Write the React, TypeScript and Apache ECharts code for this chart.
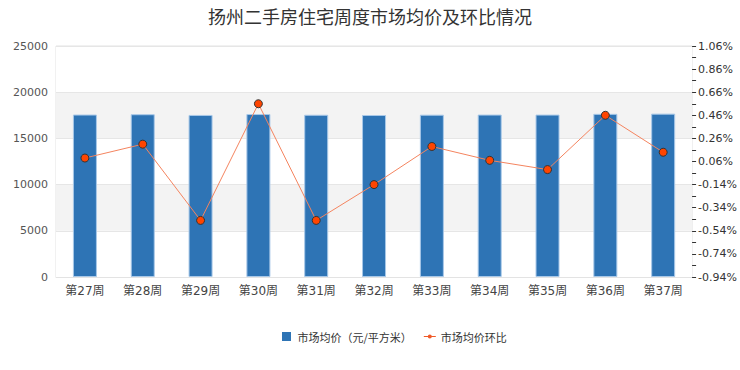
import React, { useEffect, useRef } from "react";
import * as echarts from "echarts";

const categories = ["第27周", "第28周", "第29周", "第30周", "第31周", "第32周", "第33周", "第34周", "第35周", "第36周", "第37周"];
const avgPrice = [17580, 17617, 17538, 17636, 17557, 17532, 17565, 17577, 17575, 17656, 17681];
const ringRatio = [0.09, 0.21, -0.45, 0.56, -0.45, -0.14, 0.19, 0.07, -0.01, 0.46, 0.14];
const rightMin = -0.94;
const rightSpan = 2.0;

export default function App() {
  const ref = useRef<HTMLDivElement>(null);
  useEffect(() => {
    if (!ref.current) return;
    const chart = echarts.init(ref.current, undefined, { renderer: "svg" });
    chart.setOption({
      animation: false,
      textStyle: { fontFamily: "DejaVu Sans, Noto Sans CJK SC, sans-serif" },
      title: {
        text: "扬州二手房住宅周度市场均价及环比情况",
        left: "center",
        top: 2,
        textStyle: { fontSize: 18, fontWeight: "normal", color: "#333", fontFamily: "Noto Sans CJK SC, sans-serif" },
      },
      legend: {
        top: 326,
        left: 277,
        itemGap: 12,
        itemWidth: 12,
        itemHeight: 9,
        symbolKeepAspect: true,
        textStyle: { fontSize: 11, color: "#333", fontFamily: "Noto Sans CJK SC, sans-serif" },
        data: [
          { name: "市场均价（元/平方米）", icon: "path://M0,0H10V10H0Z", itemStyle: { borderWidth: 0 } },
          {
            name: "市场均价环比",
            icon: "path://M0,4H12V5H0Z M6,2.5A2,2 0 1 1 6,6.5A2,2 0 1 1 6,2.5Z",
            itemStyle: { color: "#f05a28", borderWidth: 0 },
          },
        ],
      },
      grid: {
        left: 56,
        right: 47,
        top: 46,
        bottom: 93,
        show: true,
        borderColor: "#e3e3e3",
        borderWidth: 1,
      },
      xAxis: {
        type: "category",
        data: categories,
        axisLine: { lineStyle: { color: "#e3e3e3" } },
        axisTick: { show: false },
        axisLabel: { color: "#444", fontSize: 12, margin: 8 },
      },
      yAxis: [
        {
          type: "value",
          min: 0,
          max: 25000,
          interval: 5000,
          axisLine: { show: false },
          axisTick: { show: false },
          axisLabel: { color: "#555", fontSize: 11, formatter: (v: number) => String(v) },
          splitLine: { show: true, lineStyle: { color: "#e6e6e6" } },
          splitArea: { show: true, areaStyle: { color: ["#ffffff", "#f3f3f3"] } },
        },
        {
          type: "value",
          min: 0,
          max: rightSpan,
          interval: 0.2,
          position: "right",
          axisLine: { show: false },
          axisTick: { show: true, length: 4, lineStyle: { color: "#333" } },
          minorTick: { show: true, splitNumber: 2, length: 4, lineStyle: { color: "#333" } },
          axisLabel: {
            color: "#333",
            fontSize: 11,
            margin: 6,
            formatter: (v: number) => (v + rightMin).toFixed(2) + "%",
          },
          splitLine: { show: false },
        },
      ],
      series: [
        {
          name: "市场均价（元/平方米）",
          type: "bar",
          yAxisIndex: 0,
          data: avgPrice,
          barWidth: 24,
          itemStyle: { color: "#2e74b5", borderColor: "#a8c8e8", borderWidth: 1 },
        },
        {
          name: "市场均价环比",
          type: "line",
          yAxisIndex: 1,
          data: ringRatio.map((v) => v - rightMin),
          symbol: "circle",
          symbolSize: 8,
          lineStyle: { color: "#f4845f", width: 1 },
          itemStyle: { color: "#ff4500", borderColor: "#333", borderWidth: 1 },
        },
      ],
    });
    return () => chart.dispose();
  }, []);
  return <div ref={ref} style={{ position: "absolute", left: 0, top: 0, width: 740, height: 370 }} />;
}
